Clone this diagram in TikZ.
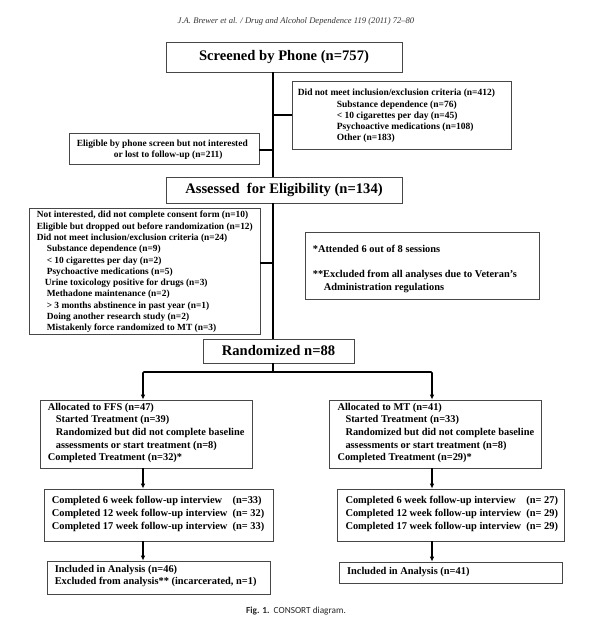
\documentclass[tikz,border=0pt]{standalone}
\usepackage{fontspec}
\setmainfont{Liberation Serif}
\newfontfamily\capfont{Carlito}
\usetikzlibrary{arrows.meta}
\tikzset{
  box/.style={draw=black!72, line width=0.8pt, inner sep=0pt},
  titlebox/.style={box, align=center, font=\bfseries\fontsize{14.6}{17}\selectfont},
  txtA/.style={inner sep=0pt, align=left, anchor=west, font=\bfseries\fontsize{9.4}{11.27}\selectfont},
  txtB/.style={inner sep=0pt, align=left, anchor=west, font=\bfseries\fontsize{10.4}{12.6}\selectfont},
  conn/.style={line width=1.6pt, black},
  arr/.style={conn, rounded corners=1pt, -{Latex[length=5pt,width=4.6pt]}},
}
\begin{document}
\begin{tikzpicture}[x=1pt, y=-1pt]
\fill[white] (0,0) rectangle (600,627);
\useasboundingbox (0,0) rectangle (600,627);

% header and caption
\node[inner sep=0pt, text=black!80, font=\itshape\fontsize{8.6}{10}\selectfont] (hdr) at (296,21)
  {J.A. Brewer et al. / Drug and Alcohol Dependence 119 (2011) 72–80};
\node[inner sep=0pt, text=black!85, font=\capfont\fontsize{9.3}{11}\selectfont] (cap) at (296,611)
  {\textbf{Fig. 1.}\ \ CONSORT diagram.};

% boxes
\node[titlebox, minimum width=236pt, minimum height=30pt] (scr) at (284,57) {Screened by Phone (n=757)};
\node[box, minimum width=219pt, minimum height=68pt] (dnm) at (401.5,115) {};
\node[txtA, font=\bfseries\fontsize{9.5}{11.25}\selectfont] (dnmt) at ([xshift=6pt,yshift=-1pt]dnm.west)
  {Did not meet inclusion/exclusion criteria (n=412)\\
   \hspace*{39pt}Substance dependence (n=76)\\
   \hspace*{39pt}< 10 cigarettes per day (n=45)\\
   \hspace*{39pt}Psychoactive medications (n=108)\\
   \hspace*{39pt}Other (n=183)};
\node[box, minimum width=190pt, minimum height=31pt] (elig) at (164,148.5) {};
\node[txtA, font=\bfseries\fontsize{9.4}{11.4}\selectfont] (eligt) at ([xshift=8pt,yshift=-1pt]elig.west)
  {Eligible by phone screen but not interested\\
   \hspace*{37pt}or lost to follow-up (n=211)};
\node[titlebox, minimum width=236pt, minimum height=26pt] (ass) at (284,190) {Assessed\ \ for Eligibility (n=134)};
\node[box, minimum width=231pt, minimum height=126pt] (big) at (144.5,271) {};
\node[txtA] (bigt) at ([xshift=8pt,yshift=-1pt]big.west)
  {Not interested, did not complete consent form (n=10)\\
   Eligible but dropped out before randomization (n=12)\\
   Did not meet inclusion/exclusion criteria (n=24)\\
   \hspace*{10pt}Substance dependence (n=9)\\
   \hspace*{10pt}< 10 cigarettes per day (n=2)\\
   \hspace*{10pt}Psychoactive medications (n=5)\\
   \hspace*{8pt}Urine toxicology positive for drugs (n=3)\\
   \hspace*{10pt}Methadone maintenance (n=2)\\
   \hspace*{10pt}> 3 months abstinence in past year (n=1)\\
   \hspace*{10pt}Doing another research study (n=2)\\
   \hspace*{10pt}Mistakenly force randomized to MT (n=3)};
\node[box, minimum width=234pt, minimum height=67pt] (notes) at (422,265.5) {};
\node[txtB] (notest) at ([xshift=8pt,yshift=-3.5pt]notes.west)
  {*Attended 6 out of 8 sessions\\[12.4pt]
   **Excluded from all analyses due to Veteran’s\\
   \hspace*{11pt}Administration regulations};
\node[titlebox, minimum width=151pt, minimum height=24pt] (rand) at (278.5,351) {Randomized n=88};

\node[box, minimum width=212pt, minimum height=68pt] (ffs) at (146,434) {};
\node[txtB] (ffst) at ([xshift=8pt,yshift=1pt]ffs.west)
  {Allocated to FFS (n=47)\\
   \hspace*{8pt}Started Treatment (n=39)\\
   \hspace*{8pt}Randomized but did not complete baseline\\
   \hspace*{8pt}assessments or start treatment (n=8)\\
   Completed Treatment (n=32)*};
\node[box, minimum width=212pt, minimum height=68pt] (mt) at (435,434) {};
\node[txtB] (mtt) at ([xshift=8.7pt,yshift=1pt]mt.west)
  {Allocated to MT (n=41)\\
   \hspace*{8pt}Started Treatment (n=33)\\
   \hspace*{8pt}Randomized but did not complete baseline\\
   \hspace*{8pt}assessments or start treatment (n=8)\\
   Completed Treatment (n=29)*};

\node[box, minimum width=229pt, minimum height=52pt] (fl) at (158.5,515) {};
\node[txtB] (flt) at ([xshift=8pt,yshift=1pt]fl.west)
  {\begin{tabular}{@{}l@{\ \ }l@{}}
   Completed 6 week follow-up interview & (n=33)\\
   Completed 12 week follow-up interview & (n= 32)\\
   Completed 17 week follow-up interview & (n= 33)
   \end{tabular}};
\node[box, minimum width=227pt, minimum height=52pt] (fr) at (450.5,515) {};
\node[txtB] (frt) at ([xshift=8.7pt,yshift=1pt]fr.west)
  {\begin{tabular}{@{}l@{\ \ }l@{}}
   Completed 6 week follow-up interview & (n= 27)\\
   Completed 12 week follow-up interview & (n= 29)\\
   Completed 17 week follow-up interview & (n= 29)
   \end{tabular}};

\node[box, minimum width=223pt, minimum height=33pt] (il) at (158.5,577.5) {};
\node[txtB] (ilt) at ([xshift=8pt,yshift=1.5pt]il.west)
  {Included in Analysis (n=46)\\
   Excluded from analysis** (incarcerated, n=1)};
\node[box, minimum width=223pt, minimum height=21pt] (ir) at (450.5,572.5) {};
\node[txtB] (irt) at ([xshift=8.3pt]ir.west) {Included in Analysis (n=41)};

% connectors
\coordinate (b1) at (273,115);
\coordinate (b2) at (273,150);
\coordinate (b3) at (273,263);
\coordinate (j) at (273,372);
\coordinate (cl) at (143,0);
\coordinate (cr) at (432,0);
\draw[conn] (scr.south -| b1) -- (ass.north -| b1);
\draw[conn] (b1) -- (b1 -| dnm.west);
\draw[conn] (b2) -- (b2 -| elig.east);
\draw[conn] (ass.south -| b1) -- (rand.north -| b1);
\draw[conn] (b3) -- (b3 -| big.east);
\draw[conn] (rand.south -| b1) -- (j);
\draw[arr] (j) -| (ffs.north -| cl);
\draw[arr] (j) -| (mt.north -| cr);
\draw[arr] (ffs.south -| cl) -- (fl.north -| cl);
\draw[arr] (mt.south -| cr) -- (fr.north -| cr);
\draw[arr] (fl.south -| cl) -- (il.north -| cl);
\draw[arr] (fr.south -| cr) -- (ir.north -| cr);
\end{tikzpicture}
\end{document}
